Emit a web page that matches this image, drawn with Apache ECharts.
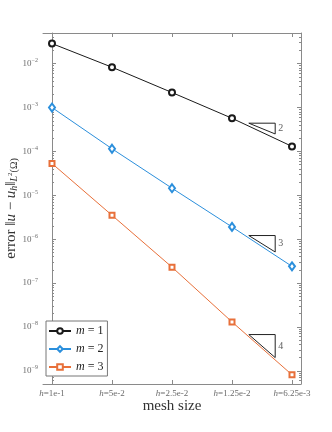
<!DOCTYPE html>
<html>
<head>
<meta charset="utf-8">
<script src="https://cdn.jsdelivr.net/npm/echarts@6/dist/echarts.min.js"></script>
<style>
  html, body { margin: 0; padding: 0; background: #fff; }
  #main { width: 332px; height: 432px; }
</style>
</head>
<body>
<div id="main"></div>
<script>
// mesh sizes (x categories) and errors per polynomial degree m
const meshLabels = ['1e-1', '5e-2', '2.5e-2', '1.25e-2', '6.25e-3'];
const meshIndex = [0, 1, 2, 3, 4];
const errM1 = [2.87e-2, 8.3e-3, 2.2e-3, 5.7e-4, 1.3e-4];
const errM2 = [1.0e-3, 1.15e-4, 1.45e-5, 1.9e-6, 2.4e-7];
const errM3 = [5.3e-5, 3.5e-6, 2.3e-7, 1.3e-8, 8.1e-10];
const seriesNames = ['m = 1', 'm = 2', 'm = 3'];

// slope triangles: [x left, x right, y top, y bottom, label]
const slopeTriangles = [
    [3.28, 3.72, 4.4e-4, 2.5e-4, '2'],
    [3.28, 3.72, 1.21e-6, 5.1e-7, '3'],
    [3.28, 3.72, 6.7e-9, 2.0e-9, '4']
];

// y tick values
const majorTicks = [1e-2, 1e-3, 1e-4, 1e-5, 1e-6, 1e-7, 1e-8, 1e-9];
const minorTicks = [];
for (let k = -10; k <= -2; k++) {
    for (let d = 1; d <= 9; d++) {
        const v = d * Math.pow(10, k);
        if (v > 5e-10 && v < 0.05) minorTicks.push(v);
    }
}

const serif = 'Liberation Serif';
const axisGray = '#8a8a8a';
const labelGray = '#6b6b6b';

const yMin = 5e-10, yMax = 0.05;

// axis carrying all (short) ticks
function yMinorAxis(pos) {
    return {
        type: 'log', min: yMin, max: yMax, position: pos,
        axisLine: { show: true, lineStyle: { color: axisGray } },
        splitLine: { show: false },
        axisLabel: { show: false },
        axisTick: { show: true, inside: true, length: 2, customValues: minorTicks, lineStyle: { color: axisGray } }
    };
}
// axis carrying the longer decade ticks
function yMajorAxis(pos) {
    return {
        type: 'log', min: yMin, max: yMax, position: pos,
        axisLine: { show: false },
        splitLine: { show: false },
        axisLabel: { show: false },
        axisTick: { show: true, inside: true, length: 4, customValues: majorTicks, lineStyle: { color: axisGray } }
    };
}

const mainY = yMinorAxis('left');
mainY.axisLabel = {
    show: true,
    customValues: majorTicks,
    margin: 5,
    formatter: function (v) {
        const e = Math.round(Math.log10(v));
        return '{b|10}{s|\u2212' + Math.abs(e) + '}';
    },
    rich: {
        b: { fontFamily: serif, fontSize: 9, color: labelGray },
        s: { fontFamily: serif, fontSize: 6, color: labelGray, padding: [0, 0, 6, 0] }
    }
};
mainY.name = '{t|error }{t|\u2016}{i|u}{t| \u2212 }{i|u}{si|h}{t|\u2016}{si|L}{sb|2}{ss|(\u03A9)}';
mainY.nameLocation = 'middle';
mainY.nameGap = 24;
mainY.nameMoveOverlap = false;
mainY.nameRotate = 90;
mainY.nameTextStyle = {
    rich: {
        t: { fontFamily: serif, fontSize: 15, color: '#333' },
        i: { fontFamily: serif, fontSize: 15, fontStyle: 'italic', color: '#333' },
        si: { fontFamily: serif, fontSize: 10, fontStyle: 'italic', color: '#333', padding: [6, 0, 0, 0] },
        sb: { fontFamily: serif, fontSize: 7, color: '#333', padding: [0, 0, 2, 0] },
        ss: { fontFamily: serif, fontSize: 10, color: '#333', padding: [6, 0, 0, 0] }
    }
};

const triSeries = slopeTriangles.map(function (t) {
    return {
        type: 'line', xAxisIndex: 0, yAxisIndex: 0, silent: true,
        symbol: 'none', lineStyle: { color: '#222', width: 1 },
        z: 1,
        data: [[t[0], t[2]], [t[1], t[2]], [t[1], t[3]], [t[0], t[2]]]
    };
});
const triLabels = {
    type: 'scatter', xAxisIndex: 0, yAxisIndex: 0, silent: true,
    symbolSize: 0,
    data: slopeTriangles.map(function (t) { return [t[1], Math.sqrt(t[2] * t[3]), t[4]]; }),
    label: {
        show: true, position: 'right', distance: 3,
        formatter: function (p) { return p.value[2]; },
        fontFamily: serif, fontSize: 10, color: '#333'
    }
};

function pts(arr) { return meshIndex.map(function (x, i) { return [x, arr[i]]; }); }

const option = {
    animation: false,
    backgroundColor: '#fff',
    grid: { left: 43, right: 31, top: 33, bottom: 48, containLabel: false, outerBoundsMode: 'none' },
    legend: {
        data: seriesNames,
        orient: 'vertical',
        left: 46, top: 321,
        backgroundColor: '#fff',
        borderColor: '#777', borderWidth: 1,
        padding: [4, 4, 3, 2],
        itemWidth: 22, itemHeight: 7, itemGap: 6,
        formatter: function (n) { return '{i|m} = ' + n.slice(4); },
        textStyle: {
            fontFamily: serif, fontSize: 12, color: '#222',
            rich: { i: { fontFamily: serif, fontSize: 12, fontStyle: 'italic', color: '#222' } }
        }
    },
    xAxis: [{
        type: 'value', min: -0.15, max: 4.15, position: 'bottom',
        name: 'mesh size', nameLocation: 'middle', nameGap: 15, nameMoveOverlap: false,
        nameTextStyle: { fontFamily: serif, fontSize: 15, color: '#333' },
        axisLine: { show: true, lineStyle: { color: axisGray } },
        splitLine: { show: false },
        axisTick: { show: true, inside: true, length: 4, customValues: meshIndex, lineStyle: { color: axisGray } },
        axisLabel: {
            customValues: meshIndex, margin: 5,
            formatter: function (v) { return '{i|h}{t|=' + meshLabels[Math.round(v)] + '}'; },
            rich: {
                i: { fontFamily: serif, fontSize: 9, fontStyle: 'italic', color: labelGray },
                t: { fontFamily: serif, fontSize: 9, color: labelGray }
            }
        }
    }, {
        type: 'value', min: -0.15, max: 4.15, position: 'top',
        axisLine: { show: true, lineStyle: { color: axisGray } },
        splitLine: { show: false },
        axisLabel: { show: false },
        axisTick: { show: true, inside: true, length: 4, customValues: meshIndex, lineStyle: { color: axisGray } }
    }],
    yAxis: [mainY, yMajorAxis('left'), yMinorAxis('right'), yMajorAxis('right')],
    series: [{
        name: seriesNames[0], type: 'line', data: pts(errM1),
        symbol: 'emptyCircle', symbolSize: 6,
        lineStyle: { color: '#1a1a1a', width: 1 }, itemStyle: { color: '#1a1a1a', borderWidth: 1 }, z: 3
    }, {
        name: seriesNames[1], type: 'line', data: pts(errM2),
        symbol: 'emptyDiamond', symbolSize: [6, 8],
        lineStyle: { color: '#2b8fdc', width: 1 }, itemStyle: { color: '#2b8fdc', borderWidth: 1 }, z: 3
    }, {
        name: seriesNames[2], type: 'line', data: pts(errM3),
        symbol: 'emptyRect', symbolSize: 5,
        lineStyle: { color: '#e8703a', width: 1 }, itemStyle: { color: '#e8703a', borderWidth: 1 }, z: 3
    }].concat(triSeries, [triLabels])
};

const chart = echarts.init(document.getElementById('main'));
chart.setOption(option);
</script>
</body>
</html>
